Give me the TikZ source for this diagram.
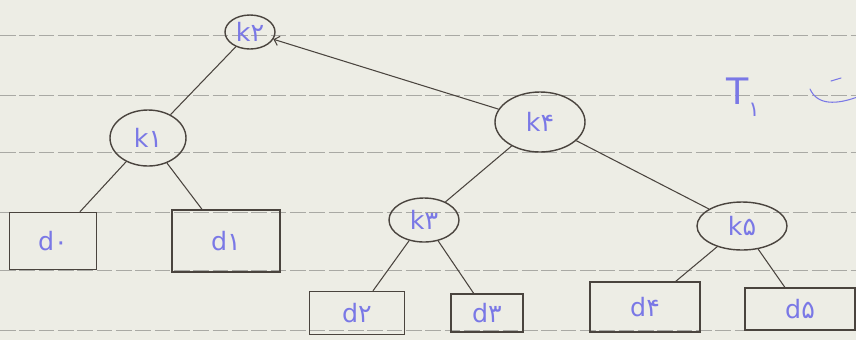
\documentclass[tikz,border=0pt]{standalone}
\usepackage{fontspec}
\setmainfont{DejaVu Sans}
\usetikzlibrary{arrows.meta,shapes.geometric}
\definecolor{paper}{HTML}{EDEDE5}
\definecolor{rule}{HTML}{A9A9A4}
\definecolor{pencil}{HTML}{4A443E}
\definecolor{ink}{HTML}{7A78E6}

\begin{document}
\begin{tikzpicture}[>=Straight Barb,
    key/.style={ellipse,draw=pencil,thick,text=ink,inner sep=0pt,
      font=\Large},
    leaf/.style={rectangle,draw=pencil,thick,text=ink,inner sep=0pt,
      font=\Large},
    edge/.style={pencil,semithick}]
  % sheet of ruled paper
  \fill[paper] (0,0) rectangle (17.12,-6.8);
  \useasboundingbox (0,0) rectangle (17.12,-6.8);
  \foreach \y in {-0.7,-1.9,-3.04,-4.24,-5.4,-6.6}
    \draw[rule,dashed,dash pattern=on 9pt off 2pt] (0,\y) -- (17.12,\y);

  % inner nodes
  \node[key,minimum width=1.0cm,minimum height=0.68cm] (k2) at (5.0,-0.64) {k۲};
  \node[key,minimum width=1.52cm,minimum height=1.12cm] (k1) at (2.96,-2.76) {k۱};
  \node[key,minimum width=1.8cm,minimum height=1.2cm] (k4) at (10.8,-2.44) {k۴};
  \node[key,minimum width=1.4cm,minimum height=0.88cm] (k3) at (8.48,-4.4) {k۳};
  \node[key,minimum width=1.8cm,minimum height=0.96cm] (k5) at (14.84,-4.52) {k۵};

  % leaves
  \node[leaf,minimum width=1.74cm,minimum height=1.14cm] (d0) at (1.06,-4.82) {d۰};
  \node[leaf,minimum width=2.16cm,minimum height=1.24cm] (d1) at (4.52,-4.82) {d۱};
  \node[leaf,minimum width=1.9cm,minimum height=0.86cm] (d2) at (7.14,-6.26) {d۲};
  \node[leaf,minimum width=1.44cm,minimum height=0.76cm] (d3) at (9.74,-6.26) {d۳};
  \node[leaf,minimum width=2.2cm,minimum height=1.0cm] (d4) at (12.9,-6.14) {d۴};
  \node[leaf,minimum width=2.2cm,minimum height=0.84cm] (d5) at (16.0,-6.18) {d۵};

  % tree edges
  \draw[edge] (k2) -- (k1);
  \draw[edge,->] (k4) -- (k2);
  \draw[edge] (k1) -- (d0);
  \draw[edge] (k1) -- (d1);
  \draw[edge] (k4) -- (k3);
  \draw[edge] (k4) -- (k5);
  \draw[edge] (k3) -- (d2);
  \draw[edge] (k3) -- (d3);
  \draw[edge] (k5) -- (d4);
  \draw[edge] (k5) -- (d5);

  % tree name
  \node[text=ink,font=\huge,anchor=west] (name) at (14.4,-1.95)
    {T\raisebox{-0.6ex}{\large ۱}};
  \draw[ink,semithick,line cap=round] (16.2,-1.78)
    .. controls (16.35,-2.12) and (16.75,-2.08) .. (17.12,-1.95);
  \draw[ink,semithick,line cap=round] (16.62,-1.62) -- (16.82,-1.56);
\end{tikzpicture}
\end{document}
